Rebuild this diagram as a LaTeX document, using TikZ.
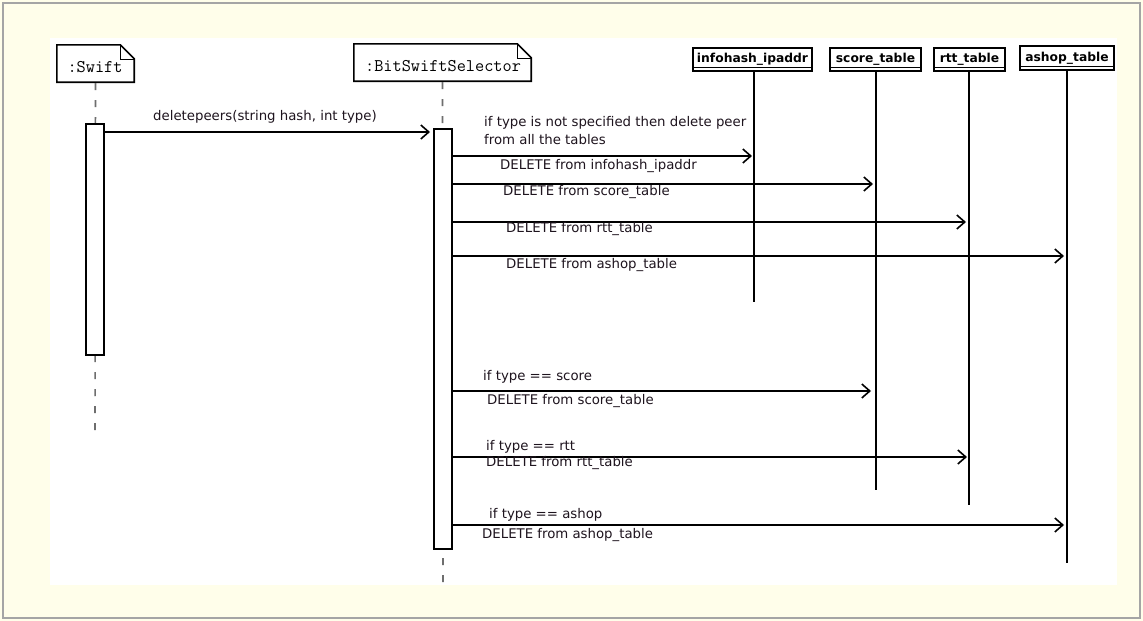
\documentclass[tikz,border=0pt]{standalone}
\usepackage{fontspec}
\setmainfont{DejaVu Sans}
\usetikzlibrary{arrows.meta}

\definecolor{pagebg}{RGB}{255,254,234}
\definecolor{frame}{RGB}{165,165,165}
\definecolor{lifegray}{RGB}{110,110,110}
\definecolor{ink}{RGB}{30,20,30}

\begin{document}
\begin{tikzpicture}[x=1pt,y=-1pt,
  objbox/.style={rectangle,draw=none,inner sep=0pt,font=\ttfamily\fontsize{17.8}{17.8}\selectfont},
  notebox/.style={draw=black,line width=1.6pt,fill=white},
  fold/.style={draw=black,line width=0.6pt},
  tablebox/.style={rectangle,draw=black,line width=1.8pt,fill=white,inner sep=0pt,
     font=\bfseries\fontsize{12.3}{12.3}\selectfont},
  activation/.style={rectangle,draw=black,line width=1.6pt,fill=white,inner sep=0pt,minimum width=18pt},
  lifedash/.style={draw=lifegray,line width=1.6pt,dash pattern=on 7pt off 10pt},
  lifesolid/.style={draw=black,line width=1.6pt},
  msg/.style={draw=black,line width=1.6pt,-{Straight Barb[length=8pt,width=14pt,line width=1.6pt]}},
  lbl/.style={anchor=west,inner sep=0pt,text=ink,font=\fontsize{13.3}{13.3}\selectfont}
]
\useasboundingbox (0,0) rectangle (1143,621);

% page, frame and drawing area
\fill[pagebg] (0,0) rectangle (1143,621);
\draw[frame,line width=1.5pt] (3,3) rectangle (1140,618);
\fill[white] (50,38) rectangle (1117,585);

% object heads (UML note style with folded corner)
\node[objbox,minimum width=77pt,minimum height=37pt] (swift) at (95.5,63.5) {};
\node[objbox,minimum width=177pt,minimum height=37pt] (sel) at (442.5,62.5) {};
\foreach \n in {swift,sel}{
  \draw[notebox] (\n.north west) -- ([xshift=-14pt]\n.north east)
     -- ([yshift=-14pt]\n.north east) -- (\n.south east) -- (\n.south west) -- cycle;
  \draw[fold] ([xshift=-14pt]\n.north east) -- ([xshift=-14pt,yshift=-14pt]\n.north east)
     -- ([yshift=-14pt]\n.north east);
}
\node[objbox] (swiftlabel) at (95,67) {:Swift};
\node[objbox] (sellabel) at (443,66) {:BitSwiftSelector};

% table heads
\node[tablebox,minimum width=119pt,minimum height=23pt] (info) at (752.5,59.5) {infohash\_ipaddr};
\node[tablebox,minimum width=91pt,minimum height=23pt] (score) at (875.5,59.5) {score\_table};
\node[tablebox,minimum width=71pt,minimum height=23pt] (rtt) at (969.5,59.5) {rtt\_table};
\node[tablebox,minimum width=94pt,minimum height=24pt] (ashop) at (1067,58) {ashop\_table};
\foreach \n in {info,score,rtt,ashop}{
  \draw[black,line width=1pt] ([yshift=4pt]\n.south west) -- ([yshift=4pt]\n.south east);
}

% lifeline ends
\coordinate (swiftend) at (95,430);
\coordinate (selend) at (443,585);
\coordinate (infoend) at (754,302);
\coordinate (scoreend) at (876,490);
\coordinate (rttend) at (969,505);
\coordinate (ashopend) at (1067,563);

% lifelines
\draw[lifedash] (swift.south) ++(0,1) -- (swiftend);
\draw[lifedash] (sel.south) ++(0,1) -- (selend);
\draw[lifesolid] (info.south -| infoend) -- (infoend);
\draw[lifesolid] (score.south -| scoreend) -- (scoreend);
\draw[lifesolid] (rtt.south -| rttend) -- (rttend);
\draw[lifesolid] (ashop.south) -- (ashopend);

% activation bars
\node[activation,minimum height=231pt] (act1) at (95,239.5) {};
\node[activation,minimum height=420pt] (act2) at (443,339) {};

% message end points
\coordinate (t0) at (430,132);
\coordinate (t1) at (752,156);
\coordinate (t2) at (873,184);
\coordinate (t3) at (966,222);
\coordinate (t4) at (1064,256);
\coordinate (t5) at (871,391);
\coordinate (t6) at (967,457);
\coordinate (t7) at (1064,525);

% messages
\draw[msg] (act1.east |- t0) -- (t0);
\foreach \t in {t1,t2,t3,t4,t5,t6,t7}{
  \draw[msg] (act2.east |- \t) -- (\t);
}

% message labels
\node[lbl,anchor=center] (l0) at (265,117) {deletepeers(string hash, int type)};
\node[lbl] (c1a) at (484,123) {if type is not specified then delete peer};
\node[lbl] (c1b) at (484,140) {from all the tables};
\node[lbl] (l1) at (500,166) {DELETE from infohash\_ipaddr};
\node[lbl] (l2) at (503,192) {DELETE from score\_table};
\node[lbl] (l3) at (506,229) {DELETE from rtt\_table};
\node[lbl] (l4) at (506,265) {DELETE from ashop\_table};
\node[lbl] (c5) at (483,377) {if type == score};
\node[lbl] (l5) at (487,401) {DELETE from score\_table};
\node[lbl] (c6) at (486,447) {if type == rtt};
\node[lbl] (l6) at (486,463) {DELETE from rtt\_table};
\node[lbl] (c7) at (489,515) {if type == ashop};
\node[lbl] (l7) at (482,535) {DELETE from ashop\_table};
\end{tikzpicture}
\end{document}
